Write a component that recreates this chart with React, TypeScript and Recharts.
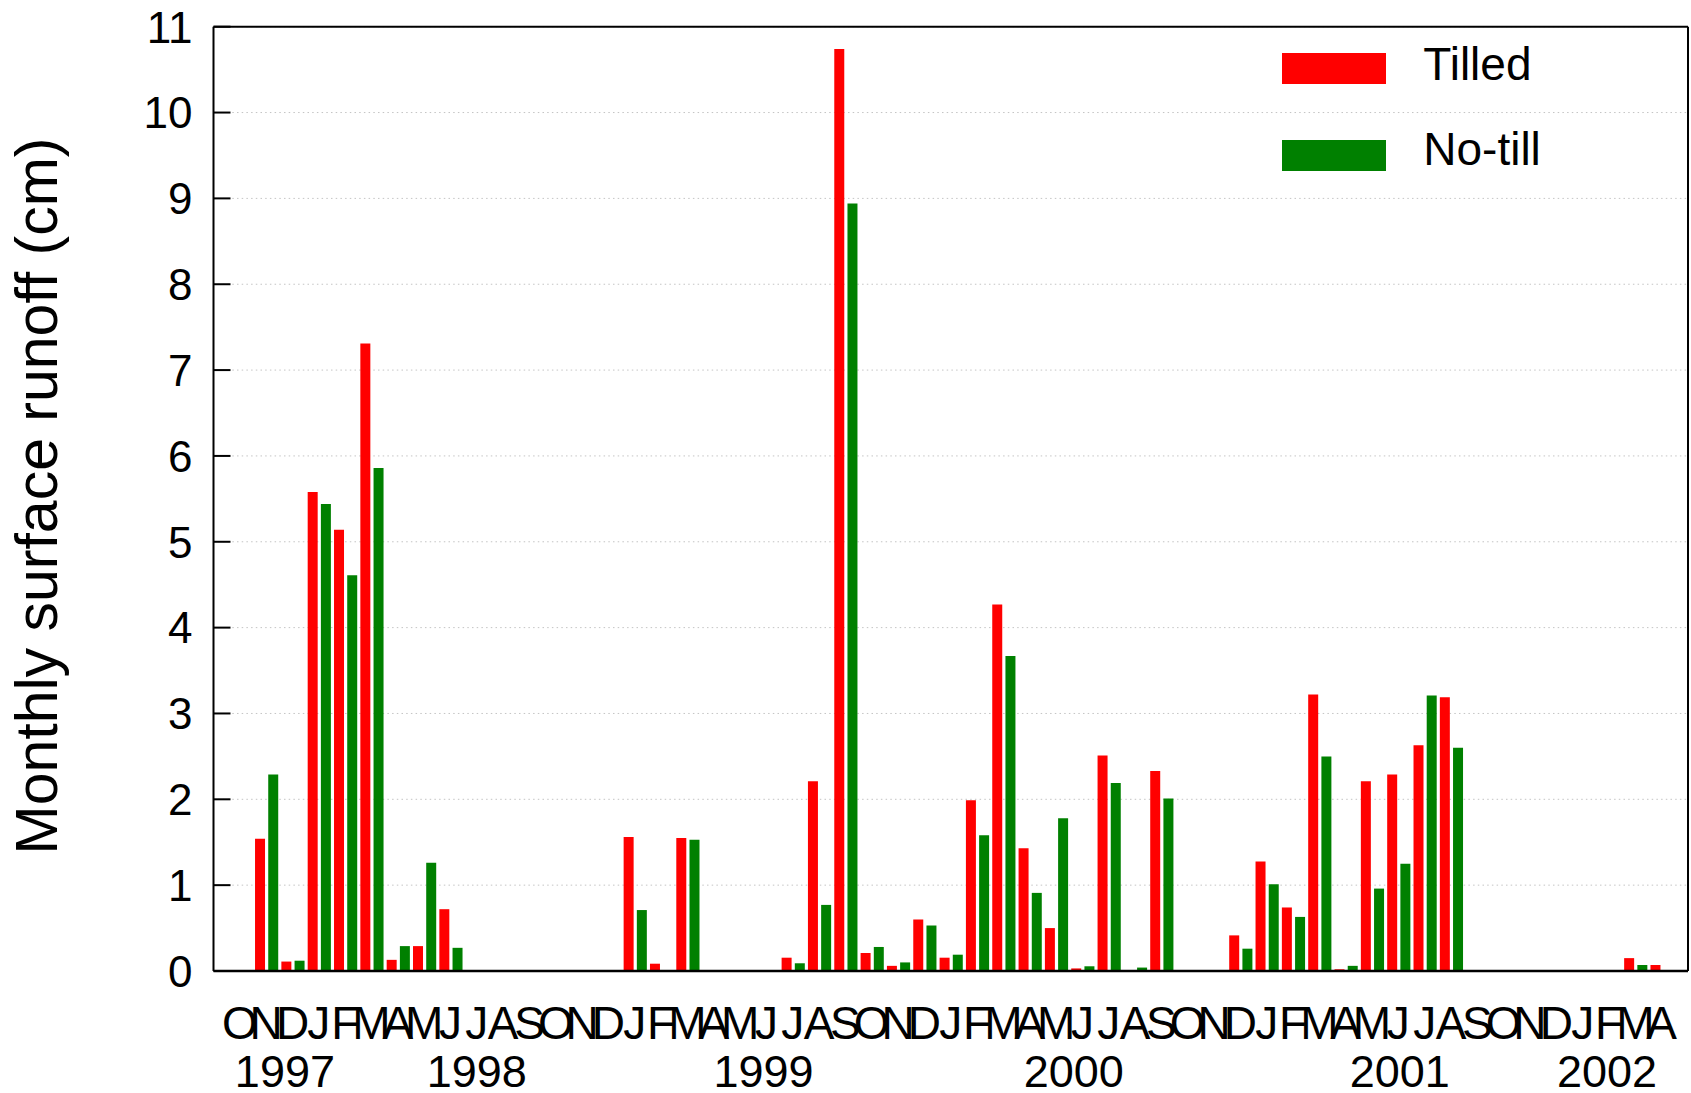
import React from 'react';
import { BarChart, Bar, XAxis, YAxis, CartesianGrid, ReferenceLine, Legend } from 'recharts';

// ---- data ----
const monthLetters = [
  'O', 'N', 'D',
  'J', 'F', 'M', 'A', 'M', 'J', 'J', 'A', 'S', 'O', 'N', 'D',
  'J', 'F', 'M', 'A', 'M', 'J', 'J', 'A', 'S', 'O', 'N', 'D',
  'J', 'F', 'M', 'A', 'M', 'J', 'J', 'A', 'S', 'O', 'N', 'D',
  'J', 'F', 'M', 'A', 'M', 'J', 'J', 'A', 'S', 'O', 'N', 'D',
  'J', 'F', 'M', 'A',
];

const tilled = [
  0, 1.54, 0.11,
  5.58, 5.14, 7.31, 0.13, 0.29, 0.72, 0, 0, 0, 0, 0, 0,
  1.56, 0.085, 1.55, 0, 0, 0, 0.155, 2.21, 10.74, 0.21, 0.06, 0.6,
  0.155, 1.99, 4.27, 1.43, 0.5, 0.03, 2.51, 0, 2.33, 0, 0, 0.415,
  1.275, 0.74, 3.22, 0.02, 2.21, 2.29, 2.63, 3.19, 0, 0, 0, 0,
  0, 0, 0.15, 0.07,
];

const noTill = [
  0, 2.29, 0.12,
  5.44, 4.61, 5.86, 0.29, 1.26, 0.27, 0, 0, 0, 0, 0, 0,
  0.71, 0, 1.53, 0, 0, 0, 0.09, 0.77, 8.94, 0.28, 0.1, 0.53,
  0.19, 1.58, 3.67, 0.91, 1.78, 0.055, 2.19, 0.04, 2.01, 0, 0, 0.26,
  1.01, 0.63, 2.5, 0.06, 0.96, 1.25, 3.21, 2.6, 0, 0, 0, 0,
  0, 0, 0.07, 0,
];

const yearLabels = ['1997', '1998', '1999', '2000', '2001', '2002'];
const yearTickIndex = [2, 9, 20, 32, 44, 52];
const yTicks = [0, 1, 2, 3, 4, 5, 6, 7, 8, 9, 10, 11];
const seriesNames = ['Tilled', 'No-till'];
const yAxisTitle = 'Monthly surface runoff (cm)';

const monthKeys = monthLetters.map((l, i) => `m${i}`);
const data = monthKeys.map((k, i) => ({ key: k, tilled: tilled[i], noTill: noTill[i] }));

// ---- styling / layout ----
const FONT = '"Liberation Sans", Arial, Helvetica, sans-serif';
const yearDx = [-7.6, 0, -3, -8.7, 1.5, -2];

const XTick = (props: any) => {
  const { x, y, payload } = props;
  const i = monthKeys.indexOf(payload.value);
  const yi = yearTickIndex.indexOf(i);
  return (
    <g>
      <text x={x} y={y + 68.3} textAnchor="middle" fontSize={46} fontFamily={FONT} fill="#000">
        {monthLetters[i]}
      </text>
      {yi >= 0 && (
        <text x={x + yearDx[yi]} y={y + 115.7} textAnchor="middle" fontSize={45} fontFamily={FONT} fill="#000">
          {yearLabels[yi]}
        </text>
      )}
    </g>
  );
};

const YTickLeft = (props: any) => {
  const { x, y, payload } = props;
  return (
    <g>
      <line x1={x} x2={x + 17} y1={y} y2={y} stroke="#000" strokeWidth={2} />
      <text x={x - 21} y={y + 15.8} textAnchor="end" fontSize={44} fontFamily={FONT} fill="#000">
        {payload.value}
      </text>
    </g>
  );
};

const YTickRight = (props: any) => {
  const { x, y } = props;
  return <line x1={x - 14} x2={x} y1={y} y2={y} stroke="#000" strokeWidth={2} />;
};

const YTitle = (props: any) => (
  <text
    x={57}
    y={496}
    transform="rotate(-90 57 496)"
    textAnchor="middle"
    fontSize={59}
    fontFamily={FONT}
    fill="#000"
  >
    {props.text}
  </text>
);

const LegendContent = (props: any) => {
  const items = [...(props.payload || [])].sort(
    (a: any, b: any) => seriesNames.indexOf(a.value) - seriesNames.indexOf(b.value)
  );
  return (
    <div style={{ position: 'relative', width: 320, height: 180 }}>
      {items.map((it: any, i: number) => (
        <React.Fragment key={it.value}>
          <div
            style={{
              position: 'absolute',
              left: 0,
              top: 53.3 + i * 86.7,
              width: 104,
              height: 30.5,
              background: it.color,
            }}
          />
          <div
            style={{
              position: 'absolute',
              left: 141.6,
              top: 80 + i * 85 - 38.9,
              fontSize: 46,
              lineHeight: '46px',
              fontFamily: FONT,
              whiteSpace: 'nowrap',
              color: '#000',
            }}
          >
            {it.value}
          </div>
        </React.Fragment>
      ))}
    </div>
  );
};

export default function App() {
  return (
    <div style={{ position: 'fixed', left: 0, top: 0, width: 1691, height: 1093, background: '#fff' }}>
      <BarChart
        width={1691}
        height={1093}
        data={data}
        margin={{ top: 26.7, right: 0, bottom: 0, left: 0 }}
        barGap={3.2}
      >
        <CartesianGrid vertical={false} stroke="#c4c4c4" strokeDasharray="1.5 3.2" />
        <XAxis
          dataKey="key"
          type="category"
          interval={0}
          height={122}
          padding={{ left: 13.2, right: 13.2 }}
          tickLine={false}
          tickSize={0}
          tickMargin={0}
          axisLine={{ stroke: '#000', strokeWidth: 2.5 }}
          tick={<XTick />}
        />
        <YAxis
          type="number"
          domain={[0, 11]}
          ticks={yTicks}
          interval={0}
          width={213.5}
          tickLine={false}
          tickSize={0}
          tickMargin={0}
          axisLine={{ stroke: '#000', strokeWidth: 2 }}
          tick={<YTickLeft />}
          label={<YTitle text={yAxisTitle} />}
        />
        <YAxis
          yAxisId="right"
          orientation="right"
          type="number"
          domain={[0, 11]}
          ticks={yTicks}
          interval={0}
          width={3}
          tickLine={false}
          tickSize={0}
          tickMargin={0}
          axisLine={{ stroke: '#000', strokeWidth: 2 }}
          tick={<YTickRight />}
        />
        <ReferenceLine y={11} stroke="#000" strokeWidth={2} />
        <Legend
          layout="vertical"
          align="center"
          verticalAlign="middle"
          wrapperStyle={{ position: 'absolute', left: 1281.7, top: 0, width: 320, height: 180 }}
          content={<LegendContent />}
        />
        <Bar dataKey="tilled" name={seriesNames[0]} fill="#ff0000" barSize={10} isAnimationActive={false} />
        <Bar dataKey="noTill" name={seriesNames[1]} fill="#008000" barSize={10} isAnimationActive={false} />
      </BarChart>
    </div>
  );
}
